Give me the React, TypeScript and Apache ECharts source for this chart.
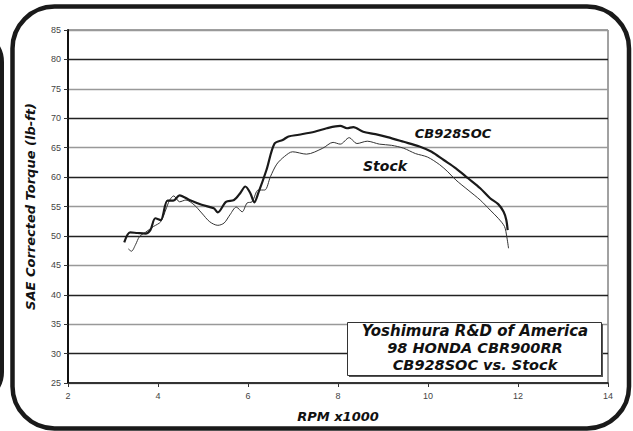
import React, { useEffect, useRef } from "react";
import * as echarts from "echarts";

const rpmSoc = [3.25, 3.38, 3.54, 3.72, 3.83, 3.94, 4.06, 4.21, 4.34, 4.48, 4.7, 4.97, 5.24, 5.33, 5.51, 5.69, 5.83, 5.94, 6.05, 6.14, 6.23, 6.41, 6.59, 6.77, 6.9, 7.13, 7.48, 7.75, 8.05, 8.2, 8.34, 8.56, 8.83, 9.1, 9.46, 9.81, 10.08, 10.35, 10.62, 10.89, 11.16, 11.38, 11.56, 11.68, 11.74, 11.77];
const torqueSoc = [48.9, 50.6, 50.5, 50.4, 51.0, 53.0, 52.7, 56.0, 56.0, 56.9, 56.1, 55.3, 54.7, 54.0, 55.8, 56.1, 57.3, 58.4, 57.3, 55.7, 57.3, 61.2, 65.7, 66.3, 66.9, 67.2, 67.7, 68.3, 68.7, 68.3, 68.5, 67.7, 67.3, 66.8, 66.0, 65.2, 64.3, 62.9, 61.5, 59.8, 58.1, 56.4, 55.4, 54.1, 52.7, 51.0];

const rpmStock = [3.34, 3.41, 3.5, 3.59, 3.72, 3.9, 4.06, 4.17, 4.26, 4.35, 4.48, 4.62, 4.8, 4.97, 5.15, 5.33, 5.47, 5.6, 5.74, 5.87, 5.98, 6.09, 6.23, 6.37, 6.5, 6.64, 6.81, 6.99, 7.3, 7.66, 7.89, 8.05, 8.25, 8.42, 8.65, 8.92, 9.19, 9.46, 9.72, 9.99, 10.26, 10.44, 10.62, 10.89, 11.16, 11.38, 11.56, 11.7, 11.75, 11.79];
const torqueStock = [47.8, 47.4, 48.5, 49.9, 50.6, 51.6, 52.4, 54.4, 56.1, 56.8, 55.8, 56.1, 55.3, 53.9, 52.4, 51.8, 52.2, 53.6, 54.9, 54.1, 55.6, 55.8, 57.8, 57.8, 60.1, 62.2, 63.5, 64.3, 63.9, 64.9, 65.9, 65.6, 66.7, 65.7, 66.1, 65.6, 65.4, 64.9, 64.0, 63.4, 62.1, 60.9, 59.5, 57.8, 56.1, 54.4, 53.0, 51.6, 49.9, 47.9];

const yName = "SAE Corrected Torque (lb-ft)";
const xName = "RPM x1000";
const socLabel = "CB928SOC";
const stockLabel = "Stock";
const boxLines = ["Yoshimura R&D of America", "98 HONDA CBR900RR", "CB928SOC vs. Stock"];

const titleFont = "DejaVu Sans";

export default function App() {
  const ref = useRef<HTMLDivElement>(null);
  useEffect(() => {
    if (!ref.current) return;
    const chart = echarts.init(ref.current, undefined, { renderer: "svg" });
    const pair = (xs: number[], ys: number[]) => xs.map((x, i) => [x, ys[i]]);
    chart.setOption({
      animation: false,
      backgroundColor: "#fff",
      grid: {
        left: 68,
        right: 25,
        top: 30,
        bottom: 48,
        show: true,
        borderColor: "#444",
        borderWidth: 1,
        backgroundColor: "transparent",
      },
      xAxis: {
        type: "value",
        min: 2,
        max: 14,
        interval: 2,
        name: xName,
        nameLocation: "middle",
        nameGap: 27,
        nameTextStyle: {
          fontFamily: titleFont,
          fontWeight: "bold",
          fontStyle: "italic",
          fontSize: 13,
          color: "#111",
        },
        axisLine: { show: true, onZero: false, lineStyle: { color: "#111", width: 1.5 } },
        axisTick: { show: true, length: 4, lineStyle: { color: "#333" } },
        axisLabel: { fontFamily: "Liberation Sans", fontSize: 9, color: "#444", margin: 8 },
        splitLine: { show: false },
      },
      yAxis: {
        type: "value",
        min: 25,
        max: 85,
        interval: 5,
        name: yName,
        nameLocation: "middle",
        nameGap: 31,
        nameTextStyle: {
          fontFamily: titleFont,
          fontWeight: "bold",
          fontStyle: "italic",
          fontSize: 13,
          color: "#111",
        },
        axisLine: { show: true, onZero: false, lineStyle: { color: "#111", width: 2 } },
        axisTick: { show: true, length: 4, lineStyle: { color: "#333" } },
        axisLabel: { fontFamily: "Liberation Sans", fontSize: 9, color: "#444", margin: 7 },
        splitLine: {
          show: true,
          lineStyle: { color: ["#999", "#222"], width: 1.3 },
        },
      },
      series: [
        {
          name: "CB928SOC",
          type: "line",
          data: pair(rpmSoc, torqueSoc),
          showSymbol: false,
          smooth: 0.3,
          lineStyle: { color: "#1a1a1a", width: 2.2 },
          z: 3,
        },
        {
          name: "Stock",
          type: "line",
          data: pair(rpmStock, torqueStock),
          showSymbol: false,
          smooth: 0.3,
          lineStyle: { color: "#333", width: 1 },
          z: 2,
        },
      ],
      graphic: [
        {
          type: "rect",
          shape: { x: 12.5, y: 6.5, width: 616.5, height: 422, r: 42 },
          style: { fill: "none", stroke: "#1a1a1a", lineWidth: 4.5 },
          z: 10,
        },
        {
          type: "rect",
          shape: { x: -200, y: 32, width: 202, height: 370, r: 30 },
          style: { fill: "none", stroke: "#1a1a1a", lineWidth: 4 },
          z: 10,
        },
        {
          type: "text",
          x: 453,
          y: 133,
          style: {
            text: socLabel,
            fontFamily: titleFont,
            fontWeight: "bold",
            fontStyle: "italic",
            fontSize: 13,
            fill: "#111",
            textAlign: "center",
            textVerticalAlign: "middle",
          },
          z: 10,
        },
        {
          type: "text",
          x: 385,
          y: 166,
          style: {
            text: stockLabel,
            fontFamily: titleFont,
            fontWeight: "bold",
            fontStyle: "italic",
            fontSize: 14,
            fill: "#111",
            textAlign: "center",
            textVerticalAlign: "middle",
          },
          z: 10,
        },
        {
          type: "rect",
          shape: { x: 349, y: 324, width: 254, height: 53 },
          style: { fill: "#555" },
          z: 9,
        },
        {
          type: "rect",
          shape: { x: 347.5, y: 322.5, width: 254, height: 53 },
          style: { fill: "#fff", stroke: "#333", lineWidth: 1 },
          z: 10,
        },
        ...boxLines.map((t, i) => ({
          type: "text",
          x: 475,
          y: 331 + i * 17,
          style: {
            text: t,
            fontFamily: titleFont,
            fontWeight: "bold",
            fontStyle: "italic",
            fontSize: i === 0 ? 15 : 14.5,
            lineHeight: 15,
            fill: "#111",
            textAlign: "center",
            textVerticalAlign: "middle",
          },
          z: 11,
        })),
      ],
    });
    return () => chart.dispose();
  }, []);
  return <div ref={ref} style={{ width: 633, height: 431, position: "absolute", left: 0, top: 0 }} />;
}
